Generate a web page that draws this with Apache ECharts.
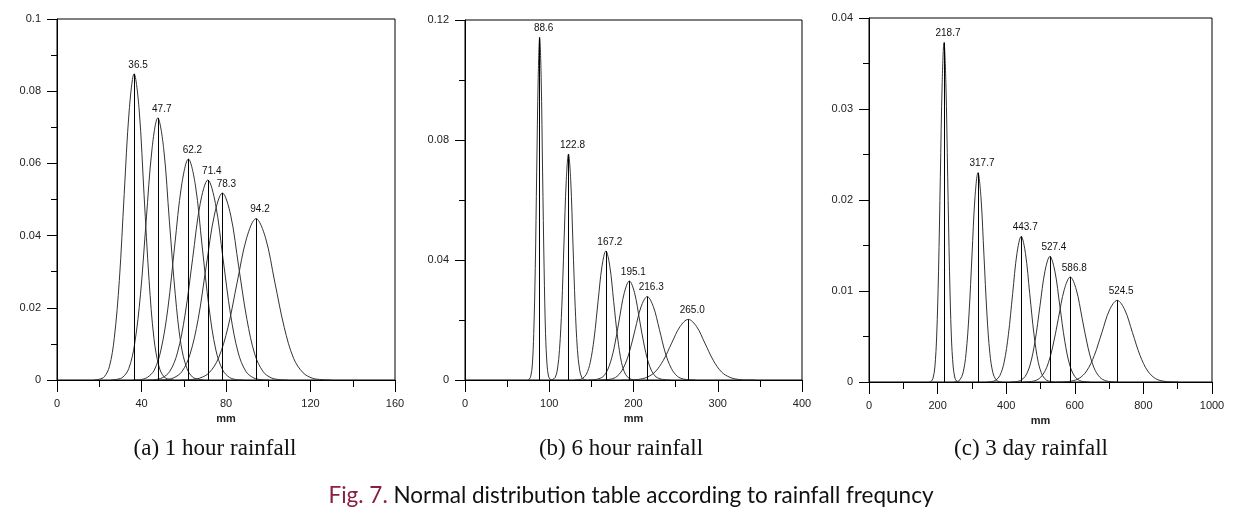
<!DOCTYPE html>
<html>
<head>
<meta charset="utf-8">
<script src="https://cdn.jsdelivr.net/npm/echarts@6/dist/echarts.min.js"></script>
<style>
html,body{margin:0;padding:0;background:#fff;}
#chart{width:1237px;height:527px;}
</style>
</head>
<body>
<div id="chart"></div>
<script>
// ---------- (a) 1 hour rainfall ----------
const labelsA = ['36.5', '47.7', '62.2', '71.4', '78.3', '94.2'];
const meansA = [36.5, 47.7, 62.2, 71.4, 78.3, 94.2];
const curveXA = [
  [17.7, 20.0, 22.4, 24.8, 27.1, 29.5, 31.8, 34.2, 36.5, 38.9, 41.2, 43.6, 45.9, 48.3, 50.6, 53.0, 55.3],
  [25.7, 28.5, 31.2, 34.0, 36.7, 39.5, 42.2, 45.0, 47.7, 50.5, 53.2, 56.0, 58.7, 61.5, 64.2, 67.0, 69.7],
  [36.2, 39.5, 42.7, 46.0, 49.2, 52.5, 55.7, 59.0, 62.2, 65.5, 68.7, 72.0, 75.2, 78.5, 81.7, 85.0, 88.2],
  [42.6, 46.2, 49.8, 53.4, 57.0, 60.6, 64.2, 67.8, 71.4, 75.0, 78.6, 82.2, 85.8, 89.4, 93.0, 96.6, 100.2],
  [47.5, 51.4, 55.2, 59.1, 62.9, 66.8, 70.6, 74.5, 78.3, 82.2, 86.0, 89.9, 93.7, 97.6, 101.4, 105.3, 109.1],
  [58.6, 63.1, 67.5, 72.0, 76.4, 80.9, 85.3, 89.8, 94.2, 98.7, 103.1, 107.6, 112.0, 116.5, 120.9, 125.4, 129.8]
];
const curveYA = [
  [0.0000, 0.0002, 0.0009, 0.0037, 0.0115, 0.0275, 0.0514, 0.0748, 0.0848, 0.0748, 0.0514, 0.0275, 0.0115, 0.0037, 0.0009, 0.0002, 0.0000],
  [0.0000, 0.0002, 0.0008, 0.0032, 0.0098, 0.0236, 0.0440, 0.0641, 0.0726, 0.0641, 0.0440, 0.0236, 0.0098, 0.0032, 0.0008, 0.0002, 0.0000],
  [0.0000, 0.0001, 0.0007, 0.0027, 0.0083, 0.0199, 0.0371, 0.0540, 0.0612, 0.0540, 0.0371, 0.0199, 0.0083, 0.0027, 0.0007, 0.0001, 0.0000],
  [0.0000, 0.0001, 0.0006, 0.0024, 0.0075, 0.0180, 0.0336, 0.0489, 0.0554, 0.0489, 0.0336, 0.0180, 0.0075, 0.0024, 0.0006, 0.0001, 0.0000],
  [0.0000, 0.0001, 0.0006, 0.0023, 0.0070, 0.0168, 0.0314, 0.0457, 0.0518, 0.0457, 0.0314, 0.0168, 0.0070, 0.0023, 0.0006, 0.0001, 0.0000],
  [0.0000, 0.0001, 0.0005, 0.0020, 0.0060, 0.0145, 0.0271, 0.0394, 0.0447, 0.0394, 0.0271, 0.0145, 0.0060, 0.0020, 0.0005, 0.0001, 0.0000]
];

// ---------- (b) 6 hour rainfall ----------
const labelsB = ['88.6', '122.8', '167.2', '195.1', '216.3', '265.0'];
const meansB = [88.6, 122.8, 167.2, 195.1, 216.3, 265.0];
const curveXB = [
  [74.6, 76.4, 78.1, 79.9, 81.6, 83.4, 85.1, 86.9, 88.6, 90.4, 92.1, 93.9, 95.6, 97.4, 99.1, 100.9, 102.6],
  [101.6, 104.3, 106.9, 109.6, 112.2, 114.9, 117.5, 120.2, 122.8, 125.5, 128.1, 130.8, 133.4, 136.1, 138.7, 141.4, 144.0],
  [130.0, 134.7, 139.3, 144.0, 148.6, 153.3, 157.9, 162.6, 167.2, 171.9, 176.5, 181.2, 185.8, 190.5, 195.1, 199.8, 204.4],
  [146.7, 152.8, 158.8, 164.9, 170.9, 177.0, 183.0, 189.1, 195.1, 201.2, 207.2, 213.3, 219.3, 225.4, 231.4, 237.5, 243.5],
  [158.9, 166.1, 173.3, 180.4, 187.6, 194.8, 202.0, 209.1, 216.3, 223.5, 230.7, 237.8, 245.0, 252.2, 259.4, 266.5, 273.7],
  [186.2, 196.0, 205.9, 215.8, 225.6, 235.5, 245.3, 255.2, 265.0, 274.9, 284.7, 294.6, 304.4, 314.3, 324.1, 334.0, 343.8]
];
const curveYB = [
  [0.0000, 0.0003, 0.0013, 0.0050, 0.0155, 0.0371, 0.0693, 0.1008, 0.1142, 0.1008, 0.0693, 0.0371, 0.0155, 0.0050, 0.0013, 0.0003, 0.0000],
  [0.0000, 0.0002, 0.0008, 0.0033, 0.0102, 0.0244, 0.0457, 0.0665, 0.0753, 0.0665, 0.0457, 0.0244, 0.0102, 0.0033, 0.0008, 0.0002, 0.0000],
  [0.0000, 0.0001, 0.0005, 0.0019, 0.0058, 0.0140, 0.0261, 0.0379, 0.0430, 0.0379, 0.0261, 0.0140, 0.0058, 0.0019, 0.0005, 0.0001, 0.0000],
  [0.0000, 0.0001, 0.0004, 0.0014, 0.0045, 0.0107, 0.0200, 0.0291, 0.0330, 0.0291, 0.0200, 0.0107, 0.0045, 0.0014, 0.0004, 0.0001, 0.0000],
  [0.0000, 0.0001, 0.0003, 0.0012, 0.0038, 0.0090, 0.0169, 0.0245, 0.0278, 0.0245, 0.0169, 0.0090, 0.0038, 0.0012, 0.0003, 0.0001, 0.0000],
  [0.0000, 0.0000, 0.0002, 0.0009, 0.0027, 0.0066, 0.0123, 0.0178, 0.0202, 0.0178, 0.0123, 0.0066, 0.0027, 0.0009, 0.0002, 0.0000, 0.0000]
];

// ---------- (c) 3 day rainfall ----------
const labelsC = ['218.7', '317.7', '443.7', '527.4', '586.8', '524.5'];
const meansC = [218.7, 317.7, 443.7, 527.4, 586.8, 723.5];
const curveXC = [
  [175.9, 181.3, 186.6, 192.0, 197.3, 202.7, 208.0, 213.4, 218.7, 224.1, 229.4, 234.8, 240.1, 245.5, 250.8, 256.2, 261.5],
  [248.1, 256.8, 265.5, 274.2, 282.9, 291.6, 300.3, 309.0, 317.7, 326.4, 335.1, 343.8, 352.5, 361.2, 369.9, 378.6, 387.3],
  [344.1, 356.6, 369.0, 381.5, 393.9, 406.4, 418.8, 431.3, 443.7, 456.2, 468.6, 481.1, 493.5, 506.0, 518.4, 530.9, 543.3],
  [411.8, 426.3, 440.7, 455.2, 469.6, 484.1, 498.5, 513.0, 527.4, 541.9, 556.3, 570.8, 585.2, 599.7, 614.1, 628.6, 643.0],
  [448.4, 465.7, 483.0, 500.3, 517.6, 534.9, 552.2, 569.5, 586.8, 604.1, 621.4, 638.7, 656.0, 673.3, 690.6, 707.9, 725.2],
  [545.5, 567.8, 590.0, 612.3, 634.5, 656.8, 679.0, 701.3, 723.5, 745.8, 768.0, 790.3, 812.5, 834.8, 857.0, 879.3, 901.5]
];
const curveYC = [
  [0.00001, 0.00008, 0.00041, 0.00164, 0.00505, 0.01211, 0.02262, 0.03292, 0.03730, 0.03292, 0.02262, 0.01211, 0.00505, 0.00164, 0.00041, 0.00008, 0.00001],
  [0.00001, 0.00005, 0.00026, 0.00101, 0.00311, 0.00747, 0.01395, 0.02030, 0.02300, 0.02030, 0.01395, 0.00747, 0.00311, 0.00101, 0.00026, 0.00005, 0.00001],
  [0.00000, 0.00004, 0.00018, 0.00070, 0.00216, 0.00520, 0.00970, 0.01412, 0.01600, 0.01412, 0.00970, 0.00520, 0.00216, 0.00070, 0.00018, 0.00004, 0.00000],
  [0.00000, 0.00003, 0.00015, 0.00061, 0.00187, 0.00448, 0.00837, 0.01218, 0.01380, 0.01218, 0.00837, 0.00448, 0.00187, 0.00061, 0.00015, 0.00003, 0.00000],
  [0.00000, 0.00003, 0.00013, 0.00051, 0.00156, 0.00375, 0.00700, 0.01018, 0.01154, 0.01018, 0.00700, 0.00375, 0.00156, 0.00051, 0.00013, 0.00003, 0.00000],
  [0.00000, 0.00002, 0.00010, 0.00039, 0.00121, 0.00291, 0.00544, 0.00792, 0.00897, 0.00792, 0.00544, 0.00291, 0.00121, 0.00039, 0.00010, 0.00002, 0.00000]
];

// ---------- axis ticks ----------
const xTicksA = {min: 0, max: 160, interval: 40};
const yTicksA = {min: 0, max: 0.1, interval: 0.02};
const xTicksB = {min: 0, max: 400, interval: 100};
const yTicksB = {min: 0, max: 0.12, interval: 0.04};
const xTicksC = {min: 0, max: 1000, interval: 200};
const yTicksC = {min: 0, max: 0.04, interval: 0.01};

const subtitles = ['(a) 1 hour rainfall', '(b) 6 hour rainfall', '(c) 3 day rainfall'];
const captionLead = 'Fig. 7.';
const captionText = 'Normal distribution table according to rainfall frequncy';

const tickFont = '"Liberation Sans", Arial, sans-serif';

function fmtY(v) {
  if (v === 0) return '0';
  return String(parseFloat(v.toFixed(3)));
}
function fmtX(v) { return String(v); }

function makeX(idx, t) {
  return {
    type: 'value', gridIndex: idx, min: t.min, max: t.max, interval: t.interval,
    name: 'mm', nameLocation: 'middle', nameGap: 30,
    nameTextStyle: {fontFamily: tickFont, fontSize: 11, fontWeight: 'bold', color: '#222'},
    axisLine: {show: true, onZero: false, lineStyle: {color: '#000', width: 1}},
    axisTick: {show: true, inside: false, length: 12, lineStyle: {color: '#000', width: 1}},
    minorTick: {show: true, splitNumber: 2, length: 7, lineStyle: {color: '#000', width: 1}},
    axisLabel: {margin: 18, fontFamily: tickFont, fontSize: 11, color: '#222', formatter: fmtX},
    splitLine: {show: false}, minorSplitLine: {show: false}
  };
}
function makeY(idx, t) {
  return {
    type: 'value', gridIndex: idx, min: t.min, max: t.max, interval: t.interval,
    axisLine: {show: true, lineStyle: {color: '#000', width: 1}},
    axisTick: {show: true, inside: false, length: 10, lineStyle: {color: '#000', width: 1}},
    minorTick: {show: true, splitNumber: 2, length: 6, lineStyle: {color: '#000', width: 1}},
    axisLabel: {margin: 16, fontFamily: tickFont, fontSize: 11, color: '#222', formatter: fmtY},
    splitLine: {show: false}, minorSplitLine: {show: false}
  };
}

function makeSeries(idx, xs, ys, means, labels) {
  return xs.map(function (xArr, i) {
    const data = xArr.map(function (x, j) { return [x, ys[i][j]]; });
    const peak = Math.max.apply(null, ys[i]);
    return {
      type: 'line', xAxisIndex: idx, yAxisIndex: idx,
      data: data, smooth: 0.35, showSymbol: false, symbol: 'none',
      silent: true,
      lineStyle: {color: '#333', width: 1},
      markLine: {
        symbol: 'none', silent: true, animation: false,
        lineStyle: {color: '#000', width: 1, type: 'solid'},
        label: {show: true, position: 'end', distance: 4, formatter: labels[i],
                fontFamily: tickFont, fontSize: 10, color: '#111', offset: [4, 0]},
        data: [[{coord: [means[i], 0]}, {coord: [means[i], peak]}]]
      }
    };
  });
}

const chart = echarts.init(document.getElementById('chart'), null, {renderer: 'canvas'});
const serifFont = '23px "Liberation Serif", "Times New Roman", serif';
const capFont = 'Lato, "Noto Sans", sans-serif';
chart.setOption({
  animation: false,
  backgroundColor: '#fff',
  grid: [
    {left: 57, top: 19, width: 338, height: 361, show: true, borderColor: '#000', borderWidth: 1},
    {left: 465, top: 20, width: 337, height: 360, show: true, borderColor: '#000', borderWidth: 1},
    {left: 869, top: 18, width: 343, height: 364, show: true, borderColor: '#000', borderWidth: 1}
  ],
  xAxis: [makeX(0, xTicksA), makeX(1, xTicksB), makeX(2, xTicksC)],
  yAxis: [makeY(0, yTicksA), makeY(1, yTicksB), makeY(2, yTicksC)],
  series: [].concat(
    makeSeries(0, curveXA, curveYA, meansA, labelsA),
    makeSeries(1, curveXB, curveYB, meansB, labelsB),
    makeSeries(2, curveXC, curveYC, meansC, labelsC)
  ),
  graphic: [
    {type: 'text', x: 215, y: 449, style: {text: subtitles[0], textAlign: 'center', textVerticalAlign: 'middle',
      font: serifFont, fill: '#111'}},
    {type: 'text', x: 621, y: 449, style: {text: subtitles[1], textAlign: 'center', textVerticalAlign: 'middle',
      font: serifFont, fill: '#111'}},
    {type: 'text', x: 1031, y: 449, style: {text: subtitles[2], textAlign: 'center', textVerticalAlign: 'middle',
      font: serifFont, fill: '#111'}},
    {type: 'text', x: 631, y: 496, style: {
      text: '{r|' + captionLead + '} {b|' + captionText + '}',
      textAlign: 'center', textVerticalAlign: 'middle',
      rich: {
        r: {fill: '#8a1e43', fontSize: 22.5, fontFamily: capFont},
        b: {fill: '#111', fontSize: 22.5, fontFamily: capFont}
      },
      fontSize: 22.5, fontFamily: capFont, fill: '#111'}}
  ]
});
</script>
</body>
</html>
